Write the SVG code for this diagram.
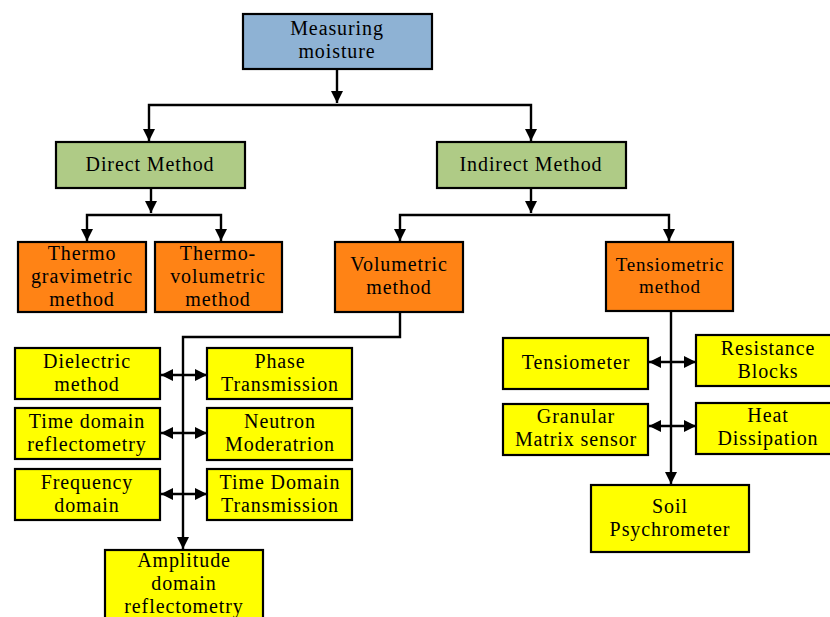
<svg xmlns="http://www.w3.org/2000/svg" width="830" height="617" viewBox="0 0 830 617">
<defs>
<style>
.box{stroke:#000;stroke-width:2.2}
.blue{fill:#8EB2D4}
.green{fill:#AFCB86}
.orange{fill:#FF8315}
.yellow{fill:#FFFF00}
text{font-family:"Liberation Serif","Times New Roman",serif;font-size:20px;letter-spacing:0.9px;fill:#000;text-anchor:middle}
.sm{font-size:19px;letter-spacing:0.8px}
.ln{fill:none;stroke:#000;stroke-width:2.4}
</style>
<marker id="ah" viewBox="0 0 10 10" refX="10" refY="5" markerWidth="12" markerHeight="12" markerUnits="userSpaceOnUse" orient="auto-start-reverse">
<path d="M0,0 L10,5 L0,10 Z" fill="#000"/>
</marker>
</defs>
<rect width="830" height="617" fill="#fff"/>
<g id="connectors">
<path class="ln" d="M337,69 V103" marker-end="url(#ah)"/>
<path class="ln" d="M149,141 V105 H531 V141" marker-start="url(#ah)" marker-end="url(#ah)"/>
<path class="ln" d="M151,188 V213" marker-end="url(#ah)"/>
<path class="ln" d="M87,241 V215 H221 V241" marker-start="url(#ah)" marker-end="url(#ah)"/>
<path class="ln" d="M531,188 V213" marker-end="url(#ah)"/>
<path class="ln" d="M400,241 V215 H669 V241" marker-start="url(#ah)" marker-end="url(#ah)"/>
<path class="ln" d="M400,312 V337 H183 V549" marker-end="url(#ah)"/>
<path class="ln" d="M161,375 H207" marker-start="url(#ah)" marker-end="url(#ah)"/>
<path class="ln" d="M161,433 H207" marker-start="url(#ah)" marker-end="url(#ah)"/>
<path class="ln" d="M161,494 H207" marker-start="url(#ah)" marker-end="url(#ah)"/>
<path class="ln" d="M671,311 V484" marker-end="url(#ah)"/>
<path class="ln" d="M649,362 H696" marker-start="url(#ah)" marker-end="url(#ah)"/>
<path class="ln" d="M649,426 H696" marker-start="url(#ah)" marker-end="url(#ah)"/>
</g>
<g id="measuring">
<rect class="box blue" x="243" y="14" width="189" height="55"/>
<text x="337" y="35">Measuring</text>
<text x="337" y="58">moisture</text>
</g>
<g id="direct">
<rect class="box green" x="56" y="142" width="189" height="46"/>
<text x="150" y="171">Direct Method</text>
</g>
<g id="indirect">
<rect class="box green" x="437" y="142" width="189" height="46"/>
<text x="531" y="171">Indirect Method</text>
</g>
<g id="thermogravimetric">
<rect class="box orange" x="18" y="242" width="128" height="70"/>
<text x="82" y="260">Thermo</text>
<text x="82" y="283">gravimetric</text>
<text x="82" y="306">method</text>
</g>
<g id="thermovolumetric">
<rect class="box orange" x="155" y="242" width="127" height="70"/>
<text x="218" y="260">Thermo-</text>
<text x="218" y="283">volumetric</text>
<text x="218" y="306">method</text>
</g>
<g id="volumetric">
<rect class="box orange" x="335" y="242" width="128" height="70"/>
<text x="399" y="271">Volumetric</text>
<text x="399" y="294">method</text>
</g>
<g id="tensiometric">
<rect class="box orange" x="606" y="242" width="127" height="69"/>
<text class="sm" x="670" y="271">Tensiometric</text>
<text class="sm" x="670" y="293">method</text>
</g>
<g id="dielectric">
<rect class="box yellow" x="15" y="348" width="145" height="51"/>
<text x="87" y="368">Dielectric</text>
<text x="87" y="391">method</text>
</g>
<g id="phase">
<rect class="box yellow" x="207" y="348" width="145" height="51"/>
<text x="280" y="368">Phase</text>
<text x="280" y="391">Transmission</text>
</g>
<g id="tdr">
<rect class="box yellow" x="15" y="408" width="145" height="51"/>
<text x="87" y="428">Time domain</text>
<text x="87" y="451">reflectometry</text>
</g>
<g id="neutron">
<rect class="box yellow" x="207" y="408" width="145" height="52"/>
<text x="280" y="428">Neutron</text>
<text x="280" y="451">Moderatrion</text>
</g>
<g id="frequency">
<rect class="box yellow" x="15" y="469" width="145" height="51"/>
<text x="87" y="489">Frequency</text>
<text x="87" y="512">domain</text>
</g>
<g id="tdt">
<rect class="box yellow" x="207" y="469" width="145" height="51"/>
<text x="280" y="489">Time Domain</text>
<text x="280" y="512">Transmission</text>
</g>
<g id="amplitude">
<rect class="box yellow" x="105" y="550" width="158" height="75"/>
<text x="184" y="567">Amplitude</text>
<text x="184" y="590">domain</text>
<text x="184" y="613">reflectometry</text>
</g>
<g id="tensiometer">
<rect class="box yellow" x="503" y="338" width="145" height="51"/>
<text x="576" y="369">Tensiometer</text>
</g>
<g id="resistance">
<rect class="box yellow" x="696" y="335" width="140" height="51"/>
<text x="768" y="355">Resistance</text>
<text x="768" y="378">Blocks</text>
</g>
<g id="granular">
<rect class="box yellow" x="503" y="404" width="145" height="51"/>
<text x="576" y="423">Granular</text>
<text x="576" y="446">Matrix sensor</text>
</g>
<g id="heat">
<rect class="box yellow" x="696" y="403" width="140" height="51"/>
<text x="768" y="422">Heat</text>
<text x="768" y="445">Dissipation</text>
</g>
<g id="soil">
<rect class="box yellow" x="591" y="485" width="158" height="67"/>
<text x="670" y="513">Soil</text>
<text x="670" y="536">Psychrometer</text>
</g>
</svg>
